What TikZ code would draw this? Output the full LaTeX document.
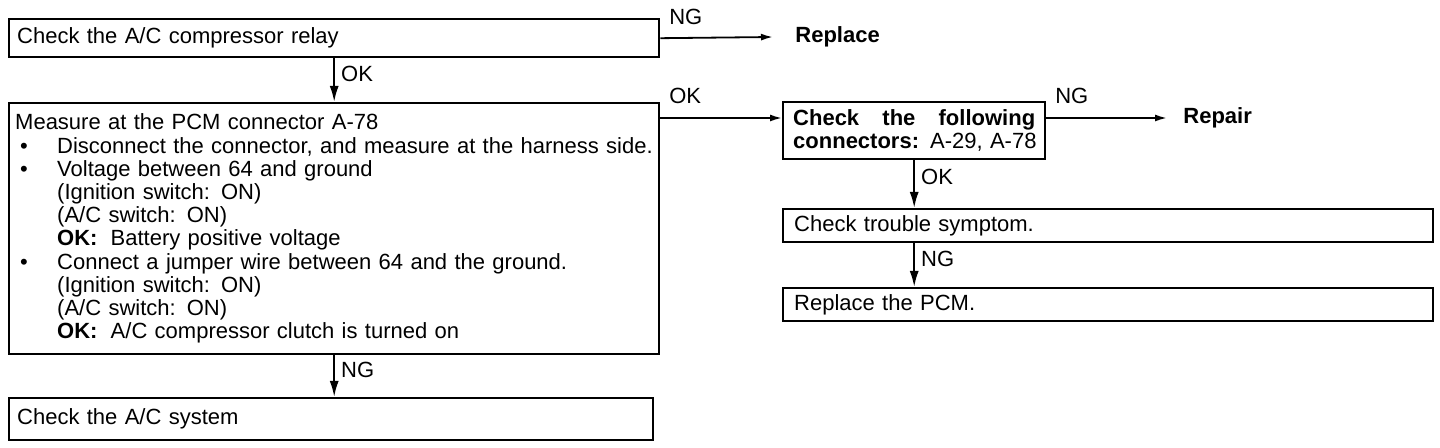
\documentclass[tikz,border=0pt]{standalone}
\usepackage{fontspec}
\setmainfont{Liberation Sans}
\usetikzlibrary{arrows.meta}

\newcommand{\bulitem}{\makebox[21pt][l]{\hspace{2.5pt}\textbullet}}
\newcommand{\subind}{\hspace*{21pt}}

\begin{document}
\begin{tikzpicture}[x=0.5pt, y=-0.5pt,
	every node/.style={font=\fontsize{11}{11.6}\selectfont},
	bold/.style={font=\fontsize{11}{11.6}\selectfont\bfseries},
	box/.style={draw, line width=1.2pt, anchor=north west, align=left, inner xsep=4pt, inner ysep=0pt},
	flow/.style={line width=1pt, -{Latex[length=8pt,width=4.5pt]}},
	side/.style={line width=0.9pt, -{Latex[length=6pt,width=3.5pt]}},
	lbl/.style={inner sep=0pt}]
	\useasboundingbox (0,0) rectangle (1440,448);
	% left column
	\node[box, text width=317pt, minimum height=19pt] (relay) at (8,18) {Check the A/C compressor relay};
	\node[box, inner xsep=3pt, text width=319pt, minimum height=125.5pt] (pcm) at (8,102) {Measure at the PCM connector A-78\\
		\bulitem\mbox{Disconnect the connector, and measure at the harness side.}\\
		\bulitem Voltage between 64 and ground\\
		\subind (Ignition switch: ON)\\
		\subind (A/C switch: ON)\\
		\subind \textbf{OK:}\hspace{0.6em}Battery positive voltage\\
		\bulitem Connect a jumper wire between 64 and the ground.\\
		\subind (Ignition switch: ON)\\
		\subind (A/C switch: ON)\\
		\subind \textbf{OK:}\hspace{0.6em}A/C compressor clutch is turned on};
	\node[box, text width=314pt, minimum height=21pt] (acsys) at (8,397) {Check the A/C system};
	% right column
	\node[box, inner xsep=5pt, text width=121pt, minimum height=28.5pt] (conn) at (782,101) {\hbox to \linewidth{\bfseries Check\hfill the\hfill following}\\
		\mbox{\textbf{connectors:} A-29, A-78}};
	\node[box, inner xsep=5.5pt, text width=314pt, minimum height=16.5pt] (symptom) at (782,208) {Check trouble symptom.};
	\node[box, inner xsep=5.5pt, text width=314pt, minimum height=16.5pt] (pcmrep) at (782,287) {Replace the PCM.};
	\node[lbl, bold, anchor=west] (replace) at (795,37) {Replace};
	\node[lbl, bold, anchor=west] (repair) at (1183,118) {Repair};
	\coordinate (okout) at ([yshift=-8pt]pcm.north east);

	\draw[flow] (relay.south) -- (pcm.north) node[lbl, pos=0.35, anchor=west, xshift=3pt] {OK};
	\draw[flow] (pcm.south) -- (pcm.south |- acsys.north) node[lbl, pos=0.35, anchor=west, xshift=3pt] {NG};
	\draw[flow] (conn.south) -- (conn.south |- symptom.north) node[lbl, pos=0.35, anchor=west, xshift=3pt] {OK};
	\draw[flow] (conn.south |- symptom.south) -- (conn.south |- pcmrep.north) node[lbl, pos=0.35, anchor=west, xshift=3pt] {NG};
	\draw[side] (relay.east) -- ([xshift=-11pt]replace.west) node[lbl, pos=0, anchor=base west, xshift=4pt, yshift=7pt] {NG};
	\draw[side] (okout) -- (okout -| conn.west) node[lbl, pos=0, anchor=base west, xshift=4pt, yshift=7pt] {OK};
	\draw[side] (okout -| conn.east) -- ([xshift=-8pt]repair.west) node[lbl, pos=0, anchor=base west, xshift=4pt, yshift=7pt] {NG};
\end{tikzpicture}
\end{document}
